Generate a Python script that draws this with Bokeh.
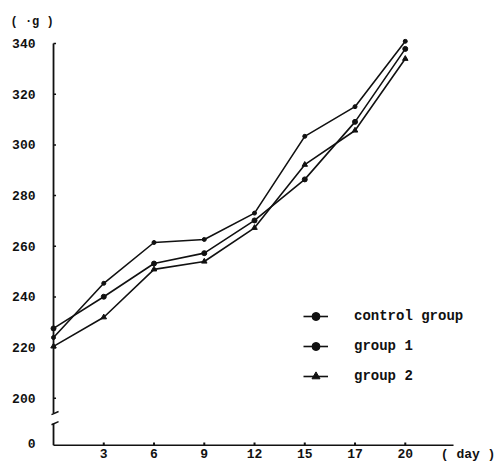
from bokeh.plotting import figure
from bokeh.models import FixedTicker, Legend, LegendItem, Range1d
from bokeh.embed import file_html
from bokeh.resources import INLINE

# ---- data ----
days = [0, 3, 6, 9, 12, 15, 17, 20]
control_group = [224.0, 245.4, 261.5, 262.7, 273.1, 303.4, 315.1, 340.9]
group_1 = [227.6, 240.1, 253.2, 257.3, 270.2, 286.4, 309.1, 337.9]
group_2 = [220.5, 232.0, 250.9, 254.0, 267.3, 292.2, 305.7, 334.0]
y_tick_values = [200, 220, 240, 260, 280, 300, 320, 340]
y_unit = "( ·g )"
x_unit = "( day )"

pos = list(range(len(days)))  # days are drawn evenly spaced
X_UNIT_POS = 8.25

FONT = "Liberation Mono"
INK = "#111111"

Y_START = 181.0
AXIS_Y = 181.5     # where the horizontal axis line is drawn
ZERO_TICK = 182    # labelled "0" (broken axis)
X_END_AXIS = 7.96

p = figure(width=499, height=464, output_backend="svg", toolbar_location=None,
           x_range=Range1d(-0.08, 8.875), y_range=Range1d(Y_START, 342),
           min_border_left=49, min_border_right=0, min_border_top=38,
           min_border_bottom=18)
p.outline_line_color = None
p.xgrid.grid_line_color = None
p.ygrid.grid_line_color = None
p.background_fill_color = "white"

p.title.text = y_unit
p.title.align = "left"
p.title.offset = -39
p.title.standoff = 19
p.title.text_font = FONT
p.title.text_font_size = "12px"
p.title.text_font_style = "bold"
p.title.text_color = INK

# x axis: labels from the axis, line and ticks drawn below
p.xaxis.ticker = FixedTicker(ticks=pos[1:] + [X_UNIT_POS])
overrides = {i: str(d) for i, d in zip(pos[1:], days[1:])}
overrides[X_UNIT_POS] = x_unit
p.xaxis.major_label_overrides = overrides
p.xaxis.major_label_standoff = 0

# y axis: labels from the axis, broken line drawn below
p.yaxis.ticker = FixedTicker(ticks=[ZERO_TICK] + y_tick_values)
p.yaxis.major_label_overrides = {ZERO_TICK: "0"}
p.yaxis.major_label_standoff = 14

for ax in (p.xaxis, p.yaxis):
    ax.axis_line_color = None
    ax.major_tick_line_color = None
    ax.minor_tick_line_color = None
    ax.major_tick_out = 0
    ax.major_tick_in = 0
    ax.minor_tick_out = 0
    ax.minor_tick_in = 0
    ax.axis_label_standoff = 0
    ax.major_label_text_font = FONT
    ax.major_label_text_font_style = "bold"
    ax.major_label_text_color = INK
p.xaxis.major_label_text_font_size = "13px"
p.yaxis.major_label_text_font_size = "13px"

# horizontal axis line and its tick dots
p.segment(x0=[0], y0=[AXIS_Y], x1=[X_END_AXIS], y1=[AXIS_Y], line_color=INK, line_width=1.6)
p.segment(x0=pos[1:], y0=[AXIS_Y] * 7, x1=pos[1:], y1=[AXIS_Y + 1.1] * 7,
          line_color=INK, line_width=2)

# broken vertical axis
p.segment(x0=[0, 0], y0=[340, 190.1], x1=[0, 0], y1=[194.1, AXIS_Y],
          line_color=INK, line_width=1.8)
p.segment(x0=[-0.04, -0.04], y0=[193.6, 189.6], x1=[0.1, 0.1], y1=[194.8, 190.8],
          line_color=INK, line_width=1.5)
p.segment(x0=[0] * len(y_tick_values), y0=y_tick_values,
          x1=[0.05] * len(y_tick_values), y1=y_tick_values,
          line_color=INK, line_width=1.5)

# series
r1 = p.line(pos, control_group, line_color=INK, line_width=1.6)
m1 = p.scatter(pos, control_group, marker="circle", size=4, color=INK)
r2 = p.line(pos, group_1, line_color=INK, line_width=1.6)
m2 = p.scatter(pos, group_1, marker="circle", size=5, color=INK)
r3 = p.line(pos, group_2, line_color=INK, line_width=1.6)
m3 = p.scatter(pos, group_2, marker="triangle", size=5.5, color=INK)

legend = Legend(items=[
    LegendItem(label="control group", renderers=[r1, m1]),
    LegendItem(label="group 1", renderers=[r2, m2]),
    LegendItem(label="group 2", renderers=[r3, m3]),
], location=(254, 60))
legend.border_line_color = None
legend.background_fill_alpha = 0
legend.padding = 0
legend.margin = 0
legend.spacing = 10
legend.glyph_width = 25
legend.glyph_height = 20
legend.label_height = 20
legend.label_standoff = 26
legend.label_text_font = FONT
legend.label_text_font_size = "14px"
legend.label_text_font_style = "bold"
legend.label_text_color = INK
p.add_layout(legend)

open("out.html", "w").write(file_html(p, INLINE))
